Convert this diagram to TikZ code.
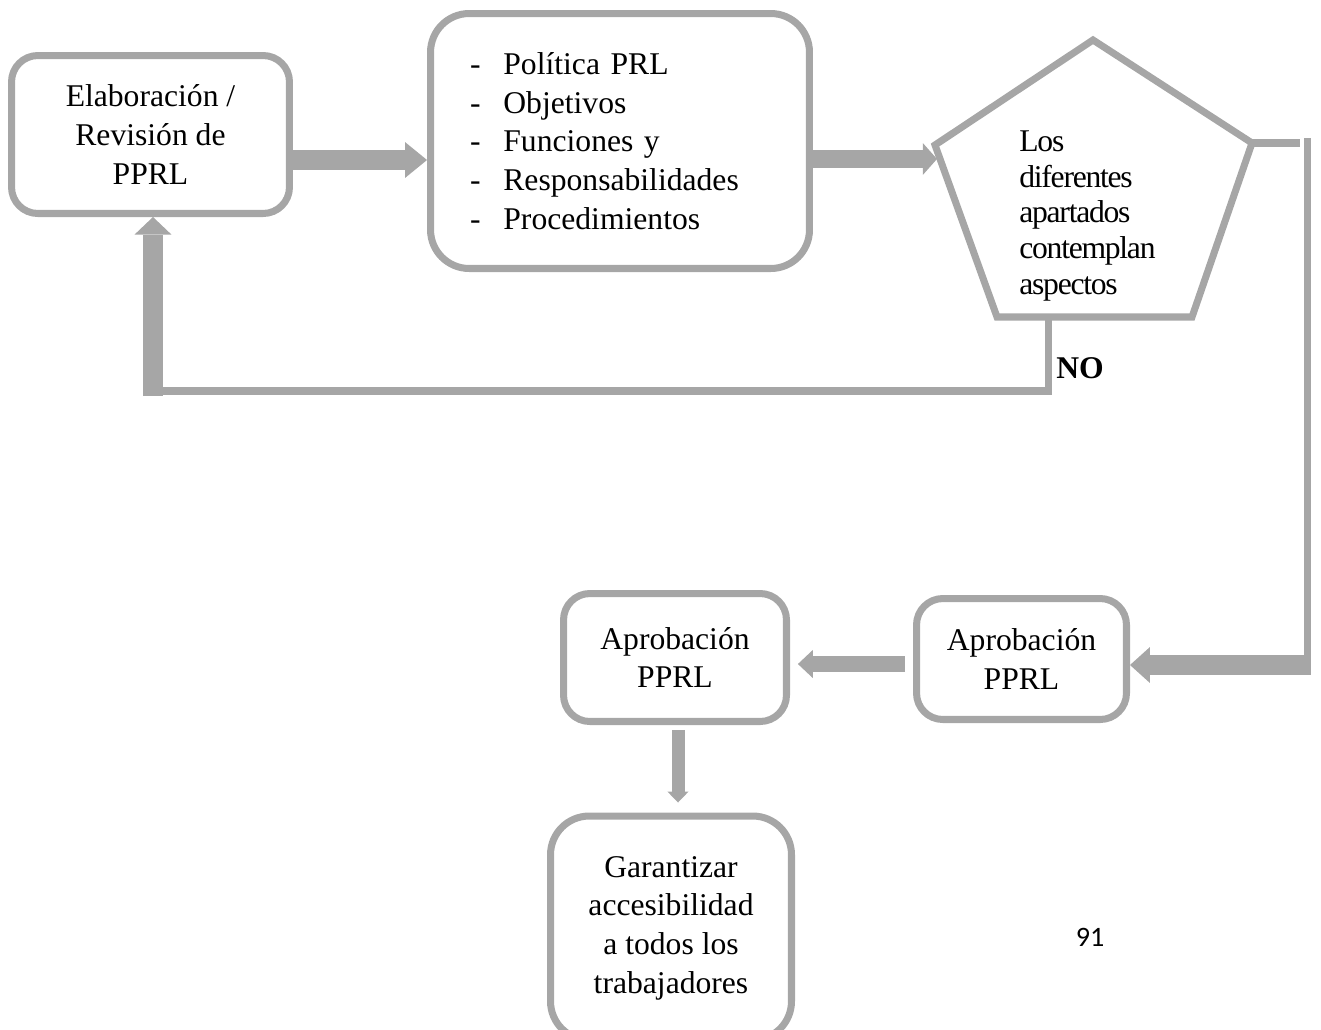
\documentclass[tikz,border=0pt]{standalone}
\usepackage{fontspec}
\setmainfont{Liberation Serif}
\newfontfamily\estrecha[LetterSpace=-4]{Liberation Serif}
\newfontfamily\pagina{Carlito}
\usetikzlibrary{arrows.meta, positioning}
\definecolor{gris}{RGB}{166,166,166}
\newcommand{\guion}{\makebox[19pt][l]{-}}

\begin{document}
\begin{tikzpicture}[x=0.02cm, y=-0.02cm,
    caja/.style={draw=gris, line width=4pt, rounded corners=15pt, align=center,
        inner sep=0pt, font=\fontsize{18}{22}\selectfont},
    linea/.style={draw=gris, line width=4pt},
    flecha/.style n args={3}{draw=gris, line width=#1,
        -{Triangle[width=#2, length=#3, line width=0pt]}}]
    \useasboundingbox (0,0) rectangle (1321,1029);

    % Boxes
    \node[caja, minimum width=5.56cm, minimum height=3.16cm] (elab) at (150.5,134.5)
        {Elaboración /\\Revisión de\\PPRL};
    \node[caja, minimum width=7.58cm, minimum height=5.1cm, text width=6cm, align=left,
        rounded corners=22pt] (doc) at (620,141)
        {\guion Política PRL\\\guion Objetivos\\\guion Funciones y\\\guion Responsabilidades\\\guion Procedimientos};
    \node[caja, minimum width=4.2cm, minimum height=2.42cm] (apr2) at (1021.5,659) {Aprobación\\PPRL};
    \node[caja, minimum width=4.46cm, minimum height=2.56cm] (apr1) at (675,657.5) {Aprobación\\PPRL};
    \node[caja, minimum width=4.82cm, minimum height=4.48cm, rounded corners=22pt] (garan) at (671,928)
        {Garantizar\\accesibilidad\\a todos los\\trabajadores};

    % Pentagon
    \coordinate (p1) at (1093,40);
    \coordinate (p2) at (1252,143);
    \coordinate (p3) at (1192,317);
    \coordinate (p4) at (997,317);
    \coordinate (p5) at (935,145);
    \draw[linea, line join=miter] (p1) -- (p2) -- (p3) -- (p4) -- (p5) -- cycle;
    \node[anchor=west, align=left, inner sep=0pt, font=\estrecha\fontsize{18}{20.4}\selectfont] (preg) at (1019,216)
        {Los\\diferentes\\apartados\\contemplan\\aspectos};

    % Top row arrows
    \coordinate (f1) at (0,160);
    \draw[flecha={11.3pt}{20.4pt}{12.5pt}] (elab.east |- f1) -- (doc.west |- f1);
    \coordinate (e2) at (937,159);
    \draw[flecha={10.2pt}{18pt}{8pt}] (doc.east |- e2) -- (e2);

    % Right branch
    \coordinate (d1) at (1300,143);
    \draw[linea] (p2) -- (d1);
    \coordinate (d2) at (1307,138);
    \coordinate (d3) at (1307,675);
    \draw[linea] (d2) -- (d3);
    \coordinate (d4) at (1310,665);
    \draw[flecha={11.3pt}{20.4pt}{11.3pt}] (d4) -- (apr2.east |- d4);

    % NO branch
    \coordinate (n1) at (1048,317);
    \coordinate (n2) at (1048,391);
    \coordinate (n3) at (143,391);
    \draw[linea] (n1) -- (n2) -- (n3);
    \coordinate (n4) at (153,396);
    \draw[flecha={11.3pt}{21pt}{10pt}] (n4) -- (n4 |- elab.south);
    \node[anchor=west, inner sep=0pt, font=\bfseries\fontsize{18}{22}\selectfont] (no) at (1056,368) {NO};

    % Bottom arrows
    \coordinate (g1) at (0,664);
    \draw[flecha={9.6pt}{16pt}{8.5pt}, shorten <=4.5pt, shorten >=4.5pt] (apr2.west |- g1) -- (apr1.east |- g1);
    \coordinate (h1) at (678,0);
    \draw[flecha={7.4pt}{12pt}{6.2pt}, shorten <=2.8pt, shorten >=5.7pt] (apr1.south -| h1) -- (garan.north -| h1);

    \node[font=\pagina\fontsize{16}{19}\selectfont] (pag) at (1090,937) {91};
\end{tikzpicture}
\end{document}
